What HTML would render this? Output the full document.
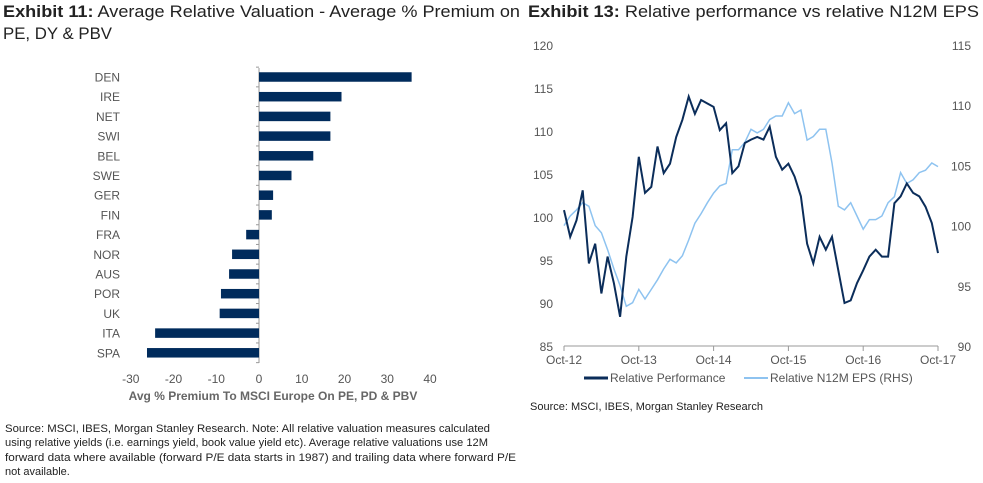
<!DOCTYPE html>
<html><head><meta charset="utf-8"><style>
body{margin:0;width:983px;height:483px;background:#fff;overflow:hidden;font-family:"Liberation Sans",sans-serif}
svg{position:absolute;left:0;top:0}
</style></head><body>
<svg width="983" height="483">
<g font-family="'Liberation Sans',sans-serif" font-size="17" fill="#222">
<text x="3" y="17" textLength="517" lengthAdjust="spacingAndGlyphs"><tspan font-weight="bold">Exhibit 11:</tspan> Average Relative Valuation - Average % Premium on</text>
<text x="3" y="39" textLength="109" lengthAdjust="spacingAndGlyphs">PE, DY &amp; PBV</text>
<text x="528" y="17" textLength="451" lengthAdjust="spacingAndGlyphs"><tspan font-weight="bold">Exhibit 13:</tspan> Relative performance vs relative N12M EPS</text>
</g>
<g id="left"></g>
<g id="right"></g>
<g font-size="11" fill="#222">
<text x="5" y="432" textLength="485" lengthAdjust="spacingAndGlyphs">Source: MSCI, IBES, Morgan Stanley Research. Note: All relative valuation measures calculated</text>
<text x="5" y="446" textLength="483" lengthAdjust="spacingAndGlyphs">using relative yields (i.e. earnings yield, book value yield etc). Average relative valuations use 12M</text>
<text x="5" y="461" textLength="511" lengthAdjust="spacingAndGlyphs">forward data where available (forward P/E data starts in 1987) and trailing data where forward P/E</text>
<text x="5" y="475">not available.</text>
<text x="530" y="410">Source: MSCI, IBES, Morgan Stanley Research</text>
</g>
</svg>
<script>
const countries=["DEN","IRE","NET","SWI","BEL","SWE","GER","FIN","FRA","NOR","AUS","POR","UK","ITA","SPA"];
const premiums=[35.7,19.3,16.7,16.7,12.7,7.6,3.3,3.0,-3.0,-6.3,-7.0,-8.9,-9.2,-24.3,-26.2];
const xTicks=[-30,-20,-10,0,10,20,30,40];
const dates=["Oct-12","Oct-13","Oct-14","Oct-15","Oct-16","Oct-17"];
const leftTicks=[85,90,95,100,105,110,115,120];
const rightTicks=[90,95,100,105,110,115];
const relPerf=[100.8,97.7,99.6,103.1,94.6,96.9,91.1,95.4,92.3,88.4,95.4,100,107,102.8,103.5,108.2,105.1,106.2,109.3,111.3,114,112,113.6,113.2,112.8,110.1,110.9,105.1,105.9,108.6,109,109.3,109,110.5,107,105.5,106.2,104.7,102.4,96.9,94.6,97.7,96.2,97.7,93.8,90,90.3,92.3,93.8,95.4,96.2,95.4,95.4,101.6,102.4,103.9,102.8,102.4,101.2,99.3,95.8];
const relEps=[100,100.8,101.3,101.9,101.6,100,99.4,98,96.4,95,93.3,93.6,94.7,93.9,94.7,95.5,96.4,97.2,96.9,97.5,98.8,100.2,101,101.9,102.7,103.3,103.5,106.3,106.3,106.9,108,107.7,108,108.8,109.1,109.1,110.2,109.3,109.6,107.1,107.4,108,108,105.2,101.6,101.3,101.9,100.8,99.7,100.5,100.5,100.8,101.9,102.4,104.4,103.5,103.8,104.4,104.6,105.2,104.9];
const NS="http://www.w3.org/2000/svg";
function mk(p,t,a,txt){const e=document.createElementNS(NS,t);for(const k in a)e.setAttribute(k,a[k]);if(txt!==undefined)e.textContent=txt;p.appendChild(e);return e;}
const L=document.getElementById('left');
const bx=v=>259+v*4.275, by=i=>77+i*19.7;
let ax=mk(L,'line',{x1:259,x2:259,y1:68,y2:363,stroke:'#999','stroke-width':1});


countries.forEach((c,i)=>{
 const v=premiums[i];
 const r=mk(L,'rect',{x:Math.min(bx(0),bx(v)),y:by(i)-4.75,width:Math.abs(bx(v)-bx(0)),height:9.5,fill:'#002b5c'});
 
 
 const t=mk(L,'text',{x:120,y:by(i)+4.5,'text-anchor':'end','font-size':12,fill:'#555'},c);
 
 
});
for(let i=0;i<=countries.length;i++){mk(L,'line',{x1:256,x2:259,y1:by(i)-9.85,y2:by(i)-9.85,stroke:'#999'});}
xTicks.forEach(v=>{const t=mk(L,'text',{x:bx(v),y:383,'text-anchor':'middle','font-size':12,fill:'#555'},v);
 
 });
let xt=mk(L,'text',{x:273,y:400,'text-anchor':'middle','font-size':12,'font-weight':'bold',fill:'#666'},'Avg % Premium To MSCI Europe On PE, PD & PBV');


const R=document.getElementById('right');
const n=relPerf.length;
const lx=i=>564+i*(938-564)/(n-1);
const ly=v=>346-(v-85)*(301/35);
const ry=v=>346-(v-90)*(301/25);
let xa=mk(R,'line',{x1:564,x2:938,y1:346,y2:346,stroke:'#999'});


dates.forEach((d,i)=>{const x=564+i*(938-564)/5;
 mk(R,'line',{x1:x,x2:x,y1:346,y2:351,stroke:'#999'});
 const t=mk(R,'text',{x:x,y:364,'text-anchor':'middle','font-size':12,fill:'#555'},d);
 
 });
leftTicks.forEach(v=>{const t=mk(R,'text',{x:553,y:ly(v)+5,'text-anchor':'end','font-size':12,fill:'#555'},v);
 
 });
rightTicks.forEach(v=>{const t=mk(R,'text',{x:971,y:ry(v)+5,'text-anchor':'end','font-size':12,fill:'#555'},v);
 
 });
let pe=mk(R,'polyline',{points:relEps.map((v,i)=>lx(i).toFixed(1)+','+ry(v).toFixed(1)).join(' '),fill:'none',stroke:'#8ec3f0','stroke-width':1.5});


let pp=mk(R,'polyline',{points:relPerf.map((v,i)=>lx(i).toFixed(1)+','+ly(v).toFixed(1)).join(' '),fill:'none',stroke:'#0b2d5a','stroke-width':2});


mk(R,'line',{x1:584,x2:608,y1:378,y2:378,stroke:'#0b2d5a','stroke-width':3});
let l1=mk(R,'text',{x:610,y:382,'font-size':12,fill:'#555'},'Relative Performance');


mk(R,'line',{x1:744,x2:768,y1:378,y2:378,stroke:'#8ec3f0','stroke-width':2});
let l2=mk(R,'text',{x:770,y:382,'font-size':12,fill:'#555'},'Relative N12M EPS (RHS)');


</script>
</body></html>
